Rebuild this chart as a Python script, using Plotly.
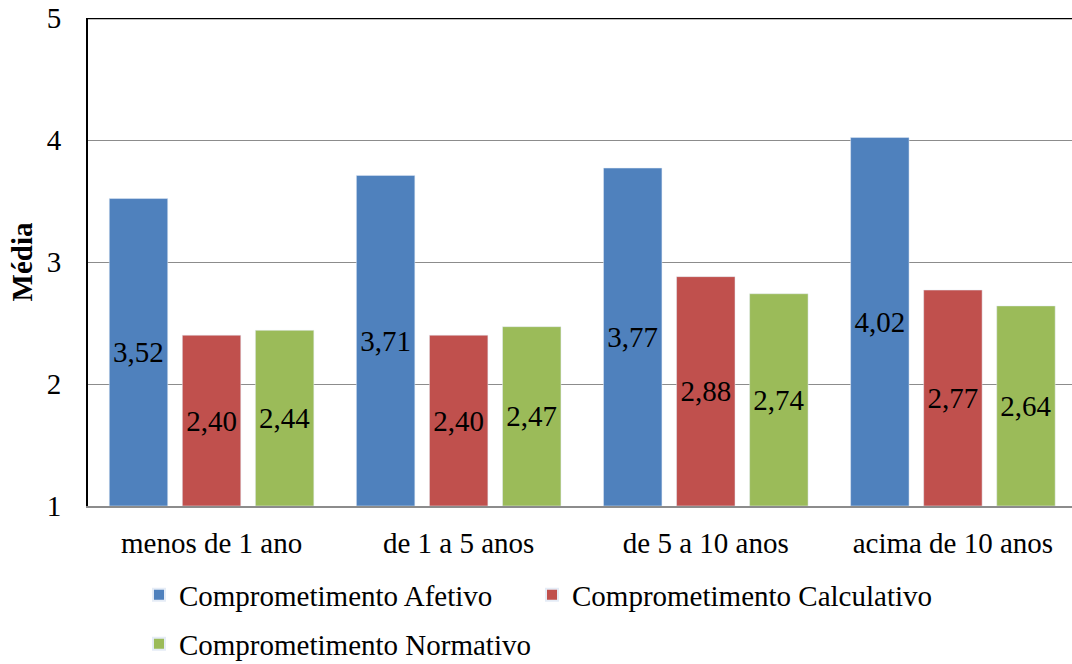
import plotly.graph_objects as go

categories = ["menos de 1 ano", "de 1 a 5 anos", "de 5 a 10 anos", "acima de 10 anos"]
series_names = ["Comprometimento Afetivo", "Comprometimento Calculativo", "Comprometimento Normativo"]
afetivo = [3.52, 3.71, 3.77, 4.02]
calculativo = [2.40, 2.40, 2.88, 2.77]
normativo = [2.44, 2.47, 2.74, 2.64]
colors = ["#4F81BD", "#C0504D", "#9BBB59"]
AXIS_MIN = 1

FONT = "Liberation Serif"
FS = 29

legend_ids = ["legend", "legend2", "legend3"]
fig = go.Figure()
for name, vals, col, lg in zip(series_names, [afetivo, calculativo, normativo], colors, legend_ids):
    fig.add_trace(go.Bar(
        x=categories, y=[v - AXIS_MIN for v in vals], base=AXIS_MIN,
        name=name, marker_color=col, legend=lg,
        text=[f"{v:.2f}".replace(".", ",") for v in vals], texttemplate="%{text}",
        textposition="inside", insidetextanchor="middle", textangle=0,
        insidetextfont=dict(family=FONT, size=FS, color="black"),
    ))

leg_common = dict(orientation="h", xanchor="left", yanchor="middle",
                  font=dict(family=FONT, size=FS, color="black"),
                  bgcolor="rgba(0,0,0,0)", itemsizing="constant")

fig.update_layout(
    width=1072, height=664,
    margin=dict(l=88, r=0, t=18, b=158, autoexpand=False),
    paper_bgcolor="white", plot_bgcolor="white",
    barmode="group", bargap=0.113, bargroupgap=0.2,
    font=dict(family=FONT, size=FS, color="black"),
    uniformtext=dict(minsize=FS, mode="show"),
    showlegend=True,
    legend=dict(x=0.0518, y=-0.1824, **leg_common),
    legend2=dict(x=0.4512, y=-0.1824, **leg_common),
    legend3=dict(x=0.0518, y=-0.2828, **leg_common),
)
fig.update_yaxes(range=[1, 5], tickvals=[1, 2, 3, 4, 5], showgrid=True, gridcolor="#8C8C8C",
                 gridwidth=1.3, showline=True, linecolor="black", linewidth=2,
                 ticks="", ticklabelstandoff=19, zeroline=False, automargin=False,
                 ticklabeloverflow="allow",
                 title=dict(text="<b>Média</b>", standoff=6, font=dict(family=FONT, size=FS)))
fig.update_xaxes(range=[-0.5, 3.482], showline=True, linecolor="#8C8C8C", linewidth=2,
                 ticks="", ticklabelstandoff=10, showgrid=False, automargin=False,
                 ticklabeloverflow="allow")
fig.add_shape(type="line", xref="paper", yref="y", x0=0, x1=1, y0=5, y1=5,
              line=dict(color="black", width=2.5))

fig.write_html("out.html", config={"displayModeBar": False},
               post_script="document.body.style.margin='0';document.body.style.overflow='hidden';")
